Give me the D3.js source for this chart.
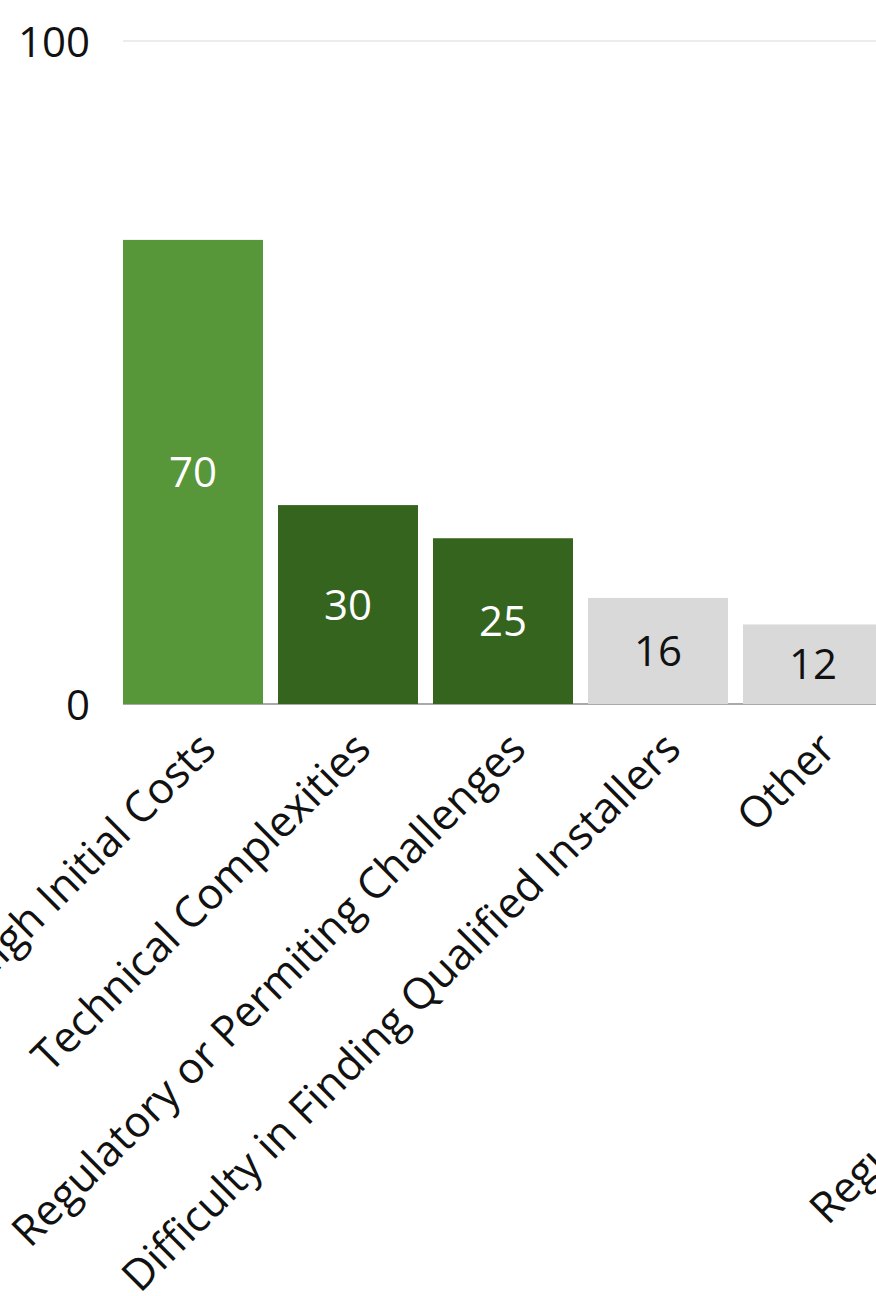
<!DOCTYPE html>
<html>
<head>
<meta charset="utf-8">
<script src="https://cdn.jsdelivr.net/npm/d3@7"></script>
<style>
  html, body { margin: 0; padding: 0; background: #fff; overflow: hidden; }
  svg { display: block; font-family: "Open Sans", "Noto Sans", sans-serif; }
</style>
</head>
<body>
<svg id="chart" width="876" height="1296"></svg>
<script>
// Data
const categories = [
  "High Initial Costs",
  "Technical Complexities",
  "Regulatory or Permiting Challenges",
  "Difficulty in Finding Qualified Installers",
  "Other",
  "None",
  "Lack of Incentives",
  "Regulatory Uncertainty of Policies"
];
const values = [70, 30, 25, 16, 12, 10, 8, 6];
const barColors = ["#58963a", "#35641f", "#35641f", "#d9d9d9", "#d9d9d9", "#d9d9d9", "#d9d9d9", "#d9d9d9"];
const labelColors = ["#ffffff", "#ffffff", "#ffffff", "#111111", "#111111", "#111111", "#111111", "#111111"];
const yTicks = [0, 100];

const svg = d3.select("#chart");
const plotLeft = 123, step = 155, bandW = 140;
const plotTop = 41, plotBottom = 704;

const x = d3.scaleBand()
  .domain(categories)
  .range([plotLeft, plotLeft + categories.length * step - (step - bandW)])
  .paddingInner((step - bandW) / step)
  .paddingOuter(0);

const y = d3.scaleLinear().domain([0, 100]).range([plotBottom, plotTop]);

// gridline at 100
svg.append("g").selectAll("line")
  .data(yTicks.filter(d => d > 0))
  .join("line")
  .attr("x1", plotLeft).attr("x2", 900)
  .attr("y1", d => y(d)).attr("y2", d => y(d))
  .attr("stroke", "#d9d9d9").attr("stroke-width", 1.2);

// baseline
svg.append("line")
  .attr("x1", plotLeft).attr("x2", 2000)
  .attr("y1", y(0)).attr("y2", y(0))
  .attr("stroke", "#8c8c8c").attr("stroke-width", 1.5);

// y tick labels
const yAxis = d3.axisLeft(y).tickValues(yTicks).tickSize(0).tickPadding(0);
const yg = svg.append("g").attr("transform", `translate(90,0)`).call(yAxis);
yg.select(".domain").remove();
yg.selectAll("text")
  .attr("font-size", 42)
  .attr("fill", "#111111")
  .attr("dy", "0.38em")
  .attr("font-family", "'Open Sans', sans-serif");

// bars
svg.append("g").selectAll("rect")
  .data(categories)
  .join("rect")
  .attr("x", d => x(d))
  .attr("width", x.bandwidth())
  .attr("y", (d, i) => y(values[i]))
  .attr("height", (d, i) => y(0) - y(values[i]))
  .attr("fill", (d, i) => barColors[i]);

// value labels
svg.append("g").selectAll("text")
  .data(categories)
  .join("text")
  .attr("x", d => x(d) + x.bandwidth() / 2)
  .attr("y", (d, i) => (y(values[i]) + y(0)) / 2)
  .attr("dy", "0.36em")
  .attr("text-anchor", "middle")
  .attr("font-size", 42)
  .attr("fill", (d, i) => labelColors[i])
  .text((d, i) => values[i]);

// x labels
const xAxis = d3.axisBottom(x).tickSize(0).tickPadding(0);
const xg = svg.append("g").attr("transform", `translate(0,${y(0)})`).call(xAxis);
xg.select(".domain").remove();
xg.selectAll(".tick text")
  .attr("font-size", 43)
  .attr("fill", "#111111")
  .attr("font-family", "'Open Sans', sans-serif")
  .attr("text-anchor", "end")
  .attr("dy", 0)
  .attr("y", 0)
  .attr("transform", "translate(25,47) rotate(-45)");
</script>
</body>
</html>
